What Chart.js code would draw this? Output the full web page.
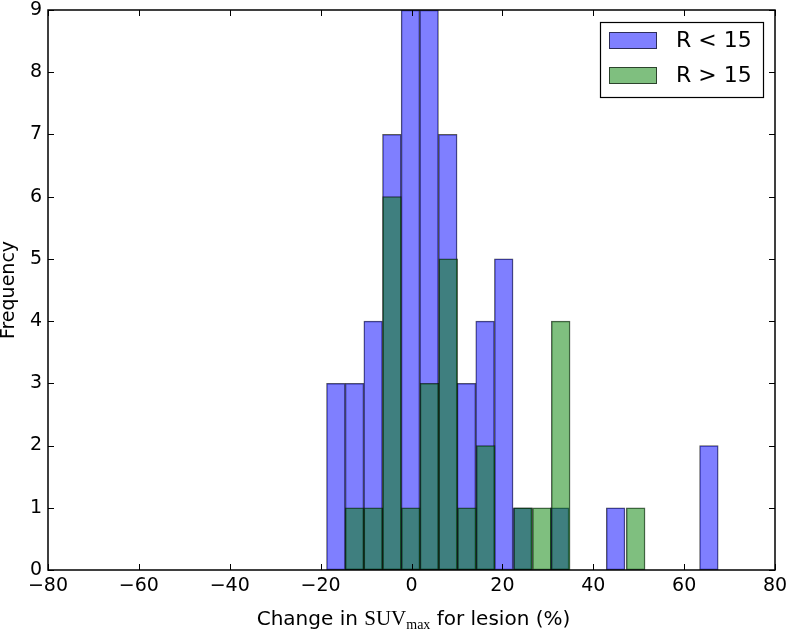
<!DOCTYPE html>
<html>
<head>
<meta charset="utf-8">
<title>Change in SUVmax histogram</title>
<script src="https://cdn.jsdelivr.net/npm/chart.js@4.4.1/dist/chart.umd.min.js"></script>
<style>
  html, body { margin: 0; padding: 0; background: #fff; }
  #wrap { position: relative; width: 787px; height: 632px; }
</style>
</head>
<body>
<div id="wrap"><canvas id="histChart"></canvas></div>
<script>
/*
    HISTOGRAM OF CHANGE IN SUVmax PER LESION
*/

// bin centres and counts (the two groups use slightly different bins)
const blueCenters  = [-16.65, -12.54, -8.44, -4.33, -0.23, 3.88, 7.98, 12.09, 16.19, 20.30, 24.40, 32.61, 44.93, 65.45];
const blueCounts   = [3, 3, 4, 7, 9, 9, 7, 3, 4, 5, 1, 1, 1, 2];
const greenCenters = [-12.54, -8.41, -4.29, -0.16, 3.96, 8.09, 12.21, 16.34, 24.59, 28.71, 32.84, 49.34];
const greenCounts  = [1, 1, 6, 1, 3, 5, 1, 2, 1, 1, 4, 1];

const seriesNames = ['R < 15', 'R > 15'];
const xTicks = [-80, -60, -40, -20, 0, 20, 40, 60, 80];
const yTicks = [0, 1, 2, 3, 4, 5, 6, 7, 8, 9];

const BLUE = 'rgba(0, 0, 255, 0.5)';
const GREEN = 'rgba(0, 128, 0, 0.5)';
const EDGE = 'rgba(0, 0, 0, 0.65)';
const SANS = '"DejaVu Sans", sans-serif';

//matplotlib style minus sign
function fmtTick(v) {
    return v < 0 ? '\u2212' + Math.abs(v) : String(v);
}

function toPoints(xs, ys) {
    return xs.map((x, i) => ({ x: x, y: ys[i] }));
}

// frame, inward ticks, legend and the mixed-font x label
const extrasPlugin = {
    id: 'extras',
    afterDatasetsDraw(chart) {
        const { ctx, chartArea: a, scales } = chart;
        ctx.save();
        ctx.strokeStyle = '#000';
        ctx.lineWidth = 1;
        ctx.beginPath();
        scales.x.ticks.forEach(t => {
            const px = Math.round(scales.x.getPixelForValue(t.value)) + 0.5;
            ctx.moveTo(px, a.bottom); ctx.lineTo(px, a.bottom - 6);
            ctx.moveTo(px, a.top); ctx.lineTo(px, a.top + 6);
        });
        scales.y.ticks.forEach(t => {
            const py = Math.round(scales.y.getPixelForValue(t.value)) + 0.5;
            ctx.moveTo(a.left, py); ctx.lineTo(a.left + 6, py);
            ctx.moveTo(a.right, py); ctx.lineTo(a.right - 6, py);
        });
        ctx.stroke();

        ctx.lineWidth = 1.5;
        ctx.strokeRect(a.left, a.top, a.right - a.left, a.bottom - a.top);
        ctx.restore();
    },
    afterDraw(chart) {
        const { ctx, chartArea: a } = chart;
        ctx.save();

        // legend box, top right inside the axes
        const bx = a.right - 175, by = a.top + 12, bw = 163, bh = 75;
        ctx.fillStyle = '#fff';
        ctx.fillRect(bx, by, bw, bh);
        ctx.strokeStyle = '#000';
        ctx.lineWidth = 1.2;
        ctx.strokeRect(bx + 0.5, by + 0.5, bw, bh);
        const colors = [BLUE, GREEN];
        seriesNames.forEach((name, i) => {
            const ry = by + 10 + i * 35;
            ctx.fillStyle = colors[i];
            ctx.fillRect(bx + 9, ry, 48, 17);
            ctx.strokeStyle = EDGE;
            ctx.lineWidth = 1;
            ctx.strokeRect(bx + 9.5, ry + 0.5, 47, 16);
            ctx.fillStyle = '#000';
            ctx.font = '22px ' + SANS;
            ctx.textBaseline = 'middle';
            ctx.textAlign = 'left';
            ctx.fillText(name, bx + 76, ry + 9);
        });

        // x axis label: Change in SUV_max for lesion (%)
        const parts = [
            { text: 'Change in ', font: '20px ' + SANS, dy: 0 },
            { text: 'SUV', font: '21px "Liberation Serif", serif', dy: 0 },
            { text: 'max', font: '14px "Liberation Serif", serif', dy: 4 },
            { text: ' for lesion (%)', font: '20px ' + SANS, dy: 0 }
        ];
        let total = 0;
        parts.forEach(p => { ctx.font = p.font; p.w = ctx.measureText(p.text).width; total += p.w; });
        let x = (a.left + a.right) / 2 - total / 2 + 2;
        const base = 625;
        ctx.fillStyle = '#000';
        ctx.textBaseline = 'alphabetic';
        ctx.textAlign = 'left';
        parts.forEach(p => {
            ctx.font = p.font;
            ctx.fillText(p.text, x, base + p.dy);
            x += p.w;
        });
        ctx.restore();
    }
};

function plotHistogram(element) {
    const ctx = document.getElementById(element).getContext('2d');

    Chart.defaults.font.family = SANS;
    Chart.defaults.font.size = 19;
    Chart.defaults.color = '#000';

    // histogram look: bars fill the whole bin, outlined on every side
    const barStyle = {
        borderColor: EDGE,
        borderWidth: 0.8,
        borderSkipped: false,
        barPercentage: 1,
        categoryPercentage: 1,
        grouped: false
    };

    const myChart = new Chart(ctx, {
        type: 'bar',
        data: {
            datasets: [Object.assign({
                label: seriesNames[0],
                data: toPoints(blueCenters, blueCounts),
                backgroundColor: BLUE,
                xAxisID: 'x',
                order: 1
            }, barStyle), Object.assign({
                label: seriesNames[1],
                data: toPoints(greenCenters, greenCounts),
                backgroundColor: GREEN,
                xAxisID: 'x2',
                order: 0
            }, barStyle)]
        },
        options: {
            responsive: true,
            maintainAspectRatio: false,
            animation: false,
            layout: { padding: { top: 10, right: 12, left: 0, bottom: 0 } },
            scales: {
                x: {
                    type: 'linear',
                    position: 'bottom',
                    min: -80,
                    max: 80,
                    offset: false,
                    afterBuildTicks: s => { s.ticks = xTicks.map(v => ({ value: v })); },
                    afterFit: s => { s.height = 62; s.paddingLeft = 0; s.paddingRight = 0; },
                    grid: { display: false, drawTicks: false, offset: false },
                    border: { display: false },
                    ticks: {
                        padding: 7,
                        maxRotation: 0,
                        font: { size: 19, lineHeight: 1 },
                        callback: v => fmtTick(v)
                    }
                },
                // second (hidden) x axis so the green bins keep their own width
                x2: {
                    type: 'linear',
                    position: 'bottom',
                    display: false,
                    min: -80,
                    max: 80,
                    offset: false,
                    grid: { offset: false }
                },
                y: {
                    min: 0,
                    max: 9,
                    afterBuildTicks: s => { s.ticks = yTicks.map(v => ({ value: v })); },
                    afterFit: s => { s.width = 48; s.paddingTop = 0; s.paddingBottom = 0; },
                    grid: { display: false, drawTicks: false },
                    border: { display: false },
                    ticks: {
                        padding: 6,
                        font: { size: 19, lineHeight: 1 },
                        callback: v => fmtTick(v)
                    },
                    title: {
                        display: true,
                        text: 'Frequency',
                        padding: 0,
                        font: { size: 19, lineHeight: 1 }
                    }
                }
            },
            plugins: {
                legend: { display: false },
                tooltip: { enabled: false }
            }
        },
        plugins: [extrasPlugin]
    });
    return myChart;
}

plotHistogram('histChart');
</script>
</body>
</html>
